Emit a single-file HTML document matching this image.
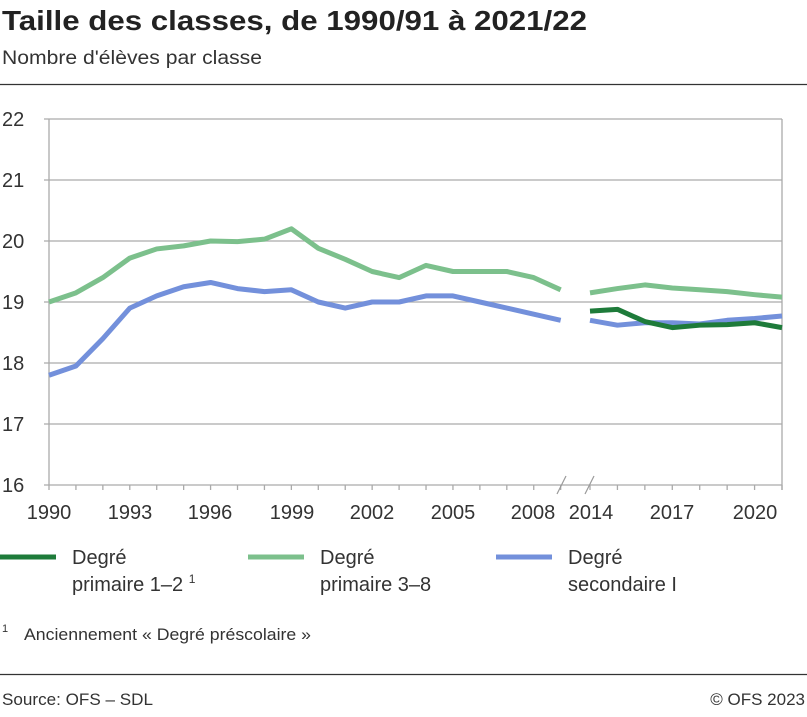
<!DOCTYPE html>
<html><head><meta charset="utf-8"><style>
body{margin:0;background:#fff;width:807px;height:712px;overflow:hidden;font-family:"Liberation Sans",sans-serif;}
</style></head><body>
<svg width="807" height="712" xmlns="http://www.w3.org/2000/svg" font-family="Liberation Sans, sans-serif">
<text x="2" y="30" font-size="28" font-weight="bold" fill="#222" textLength="585" lengthAdjust="spacingAndGlyphs">Taille des classes, de 1990/91 à 2021/22</text>
<text x="2" y="64" font-size="19" fill="#333" textLength="260" lengthAdjust="spacingAndGlyphs">Nombre d'élèves par classe</text>
<line x1="0" y1="84.5" x2="807" y2="84.5" stroke="#333" stroke-width="1.2"/>
<g stroke="#aaa" stroke-width="1.3">
<line x1="44" y1="119" x2="782" y2="119"/><line x1="44" y1="180" x2="782" y2="180"/>
<line x1="44" y1="241" x2="782" y2="241"/><line x1="44" y1="302" x2="782" y2="302"/>
<line x1="44" y1="363" x2="782" y2="363"/><line x1="44" y1="424" x2="782" y2="424"/>
<line x1="44" y1="485" x2="782" y2="485"/>
<line x1="49" y1="119" x2="49" y2="485"/><line x1="782" y1="119" x2="782" y2="490"/>
</g>
<g stroke="#aaa" stroke-width="1.3" id="ticks"></g>
<g font-size="20" fill="#333">
<text x="2" y="126">22</text><text x="2" y="187">21</text><text x="2" y="248">20</text>
<text x="2" y="309">19</text><text x="2" y="370">18</text><text x="2" y="431">17</text><text x="2" y="492">16</text>
</g>
<g font-size="20" fill="#333" text-anchor="middle">
<text x="49" y="519">1990</text><text x="130" y="519">1993</text><text x="210" y="519">1996</text>
<text x="292" y="519">1999</text><text x="372" y="519">2002</text><text x="453" y="519">2005</text>
<text x="533" y="519">2008</text><text x="591" y="519">2014</text><text x="672" y="519">2017</text><text x="755" y="519">2020</text>
</g>
<g stroke="#999" stroke-width="1.2"><line x1="557" y1="494" x2="566" y2="476"/><line x1="585" y1="494" x2="594" y2="476"/></g>
<g fill="none" stroke-width="5" stroke-linejoin="round" id="series"></g>
<line x1="0" y1="557" x2="56" y2="557" stroke="#1e7b3a" stroke-width="5"/>
<line x1="248" y1="557" x2="304" y2="557" stroke="#7cc08c" stroke-width="5"/>
<line x1="496" y1="557" x2="552" y2="557" stroke="#7390db" stroke-width="5"/>
<g font-size="20" fill="#333">
<text x="72" y="564">Degré</text><text x="72" y="591">primaire 1–2 <tspan font-size="12" dy="-8">1</tspan></text>
<text x="320" y="564">Degré</text><text x="320" y="591">primaire 3–8</text>
<text x="568" y="564">Degré</text><text x="568" y="591">secondaire I</text>
</g>
<text x="2" y="632" font-size="11" fill="#333">1</text>
<text x="24" y="640" font-size="17" fill="#333" textLength="287" lengthAdjust="spacingAndGlyphs">Anciennement « Degré préscolaire »</text>
<line x1="0" y1="674.5" x2="807" y2="674.5" stroke="#333" stroke-width="1.2"/>
<text x="2" y="705" font-size="17" fill="#333" textLength="151" lengthAdjust="spacingAndGlyphs">Source: OFS – SDL</text>
<text x="805" y="705" font-size="17" fill="#333" text-anchor="end">© OFS 2023</text>
</svg>
<script>
var ns="http://www.w3.org/2000/svg";
function y(v){return 119+(22-v)*61;}
function xl(i){return 49+26.93*i;}
function xr(j){return 590+27.43*j;}
var t=document.getElementById("ticks");
for(var i=0;i<20;i++){var l=document.createElementNS(ns,"line");l.setAttribute("x1",xl(i));l.setAttribute("x2",xl(i));l.setAttribute("y1",485);l.setAttribute("y2",490);t.appendChild(l);}
for(var j=0;j<8;j++){var l=document.createElementNS(ns,"line");l.setAttribute("x1",xr(j));l.setAttribute("x2",xr(j));l.setAttribute("y1",485);l.setAttribute("y2",490);t.appendChild(l);}
var s=document.getElementById("series");
function pl(pts,c){var p=document.createElementNS(ns,"polyline");p.setAttribute("points",pts.join(" "));p.setAttribute("stroke",c);s.appendChild(p);}
function L(a){return a.map(function(v,i){return xl(i)+","+y(v);});}
function R(a){return a.map(function(v,j){return xr(j)+","+y(v);});}
var gL=[19.0,19.15,19.4,19.72,19.87,19.92,20.0,19.99,20.03,20.2,19.88,19.7,19.5,19.4,19.6,19.5,19.5,19.5,19.4,19.2];
var gR=[19.15,19.22,19.28,19.23,19.2,19.17,19.12,19.08];
var bL=[17.8,17.95,18.4,18.9,19.1,19.25,19.32,19.22,19.17,19.2,19.0,18.9,19.0,19.0,19.1,19.1,19.0,18.9,18.8,18.7];
var bR=[18.7,18.62,18.66,18.66,18.64,18.7,18.73,18.77];
var dR=[18.85,18.88,18.68,18.58,18.62,18.63,18.66,18.58];
pl(L(gL),"#7cc08c");pl(R(gR),"#7cc08c");
pl(L(bL),"#7390db");pl(R(bR),"#7390db");
pl(R(dR),"#1e7b3a");
</script>
</body></html>
